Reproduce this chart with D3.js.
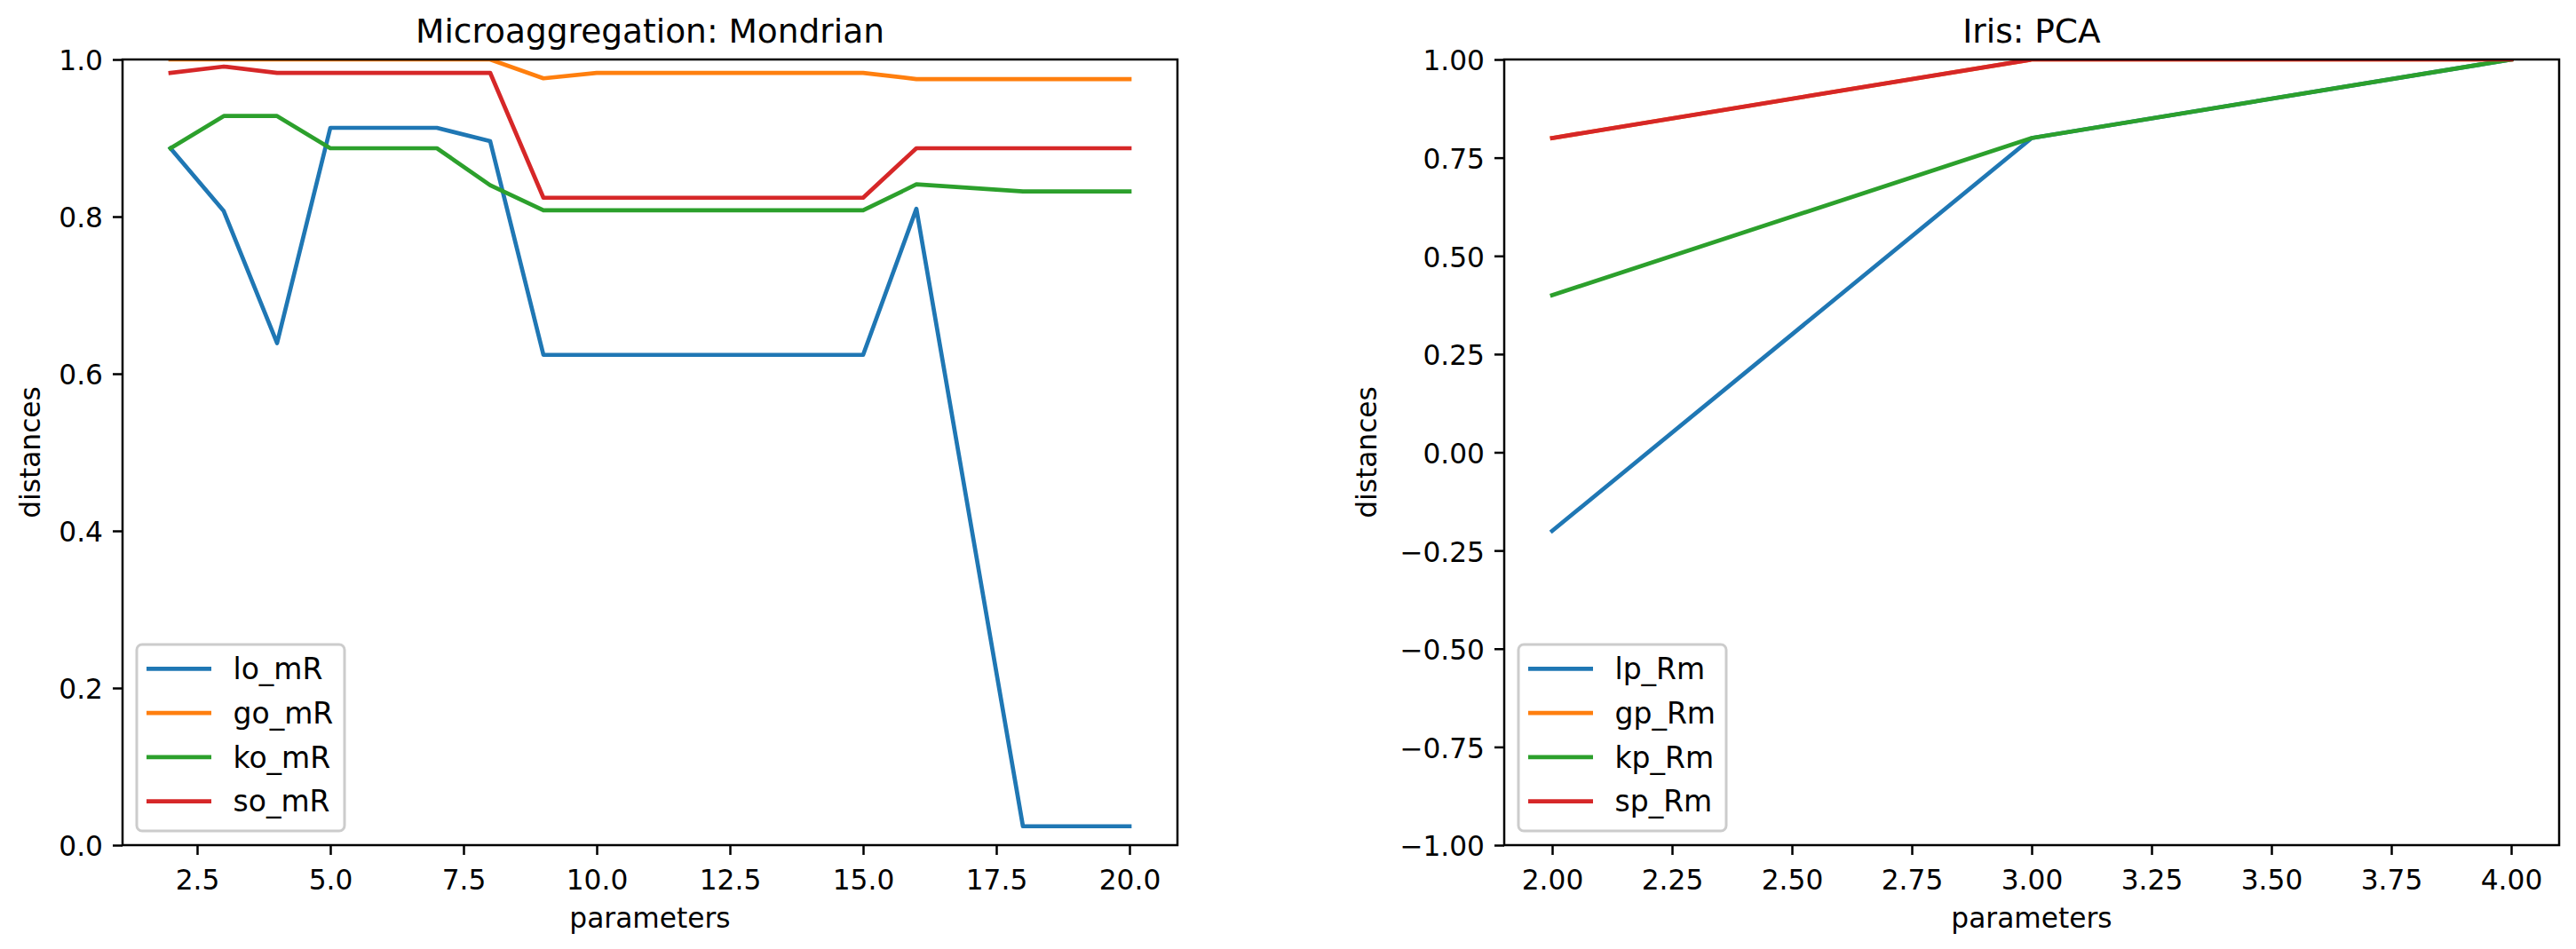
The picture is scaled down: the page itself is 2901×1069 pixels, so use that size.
<!DOCTYPE html>
<html>
<head>
<meta charset="utf-8">
<script src="https://cdn.jsdelivr.net/npm/d3@7"></script>
<style>
  body { margin: 0; background: #fff; }
  svg text { font-family: "DejaVu Sans", sans-serif; fill: #000; }
</style>
</head>
<body>
<div id="chart"></div>
<script>
// left panel data (Microaggregation: Mondrian)
const leftParams = [2, 3, 4, 5, 7, 8, 9, 10, 15, 16, 18, 20];
const lo_mR = [0.887, 0.807, 0.639, 0.913, 0.913, 0.896, 0.624, 0.624, 0.624, 0.810, 0.024, 0.024];
const go_mR = [1.0, 1.0, 1.0, 1.0, 1.0, 1.0, 0.976, 0.983, 0.983, 0.975, 0.975, 0.975];
const ko_mR = [0.887, 0.928, 0.928, 0.887, 0.887, 0.840, 0.808, 0.808, 0.808, 0.841, 0.832, 0.832];
const so_mR = [0.983, 0.991, 0.983, 0.983, 0.983, 0.983, 0.824, 0.824, 0.824, 0.887, 0.887, 0.887];
const leftNames = ["lo_mR", "go_mR", "ko_mR", "so_mR"];
const leftXTicks = [2.5, 5, 7.5, 10, 12.5, 15, 17.5, 20];
const leftYTicks = [0, 0.2, 0.4, 0.6, 0.8, 1.0];

// right panel data (Iris: PCA) - gp_Rm sits under sp_Rm
const rightParams = [2, 3, 4];
const lp_Rm = [-0.2, 0.8, 1.0];
const gp_Rm = [0.8, 1.0, 1.0];
const kp_Rm = [0.4, 0.8, 1.0];
const sp_Rm = [0.8, 1.0, 1.0];
const rightNames = ["lp_Rm", "gp_Rm", "kp_Rm", "sp_Rm"];
const rightXTicks = [2, 2.25, 2.5, 2.75, 3, 3.25, 3.5, 3.75, 4];
const rightYTicks = [-1, -0.75, -0.5, -0.25, 0, 0.25, 0.5, 0.75, 1];

const colors = ["#1f77b4", "#ff7f0e", "#2ca02c", "#d62728"];

const fullWidth = 2901;
const fullHeight = 1069;
const tickFont = 31.25;
const legendFont = 33;
const lineWidth = 4.7;

const svg = d3
  .select("#chart")
  .append("svg")
  .attr("width", fullWidth)
  .attr("height", fullHeight);

/**
 * pads a data extent by 5% on both sides like matplotlib does
 * @param {*} values
 */
function paddedExtent(values) {
  const ext = d3.extent(values);
  const pad = (ext[1] - ext[0]) * 0.05;
  return [ext[0] - pad, ext[1] + pad];
}

/**
 * draws one panel: lines, axes, spines, title, labels and legend
 */
function plotPanel(opts) {
  const left = opts.left, top = 67, width = 1188, height = 885;

  const xScale = d3.scaleLinear().domain(paddedExtent(opts.params)).range([0, width]);
  const yScale = d3.scaleLinear().domain(opts.yDomain).range([height, 0]);

  const g = svg.append("g").attr("transform", "translate(" + left + "," + top + ")");

  g.append("clipPath")
    .attr("id", opts.id + "-clip")
    .append("rect")
    .attr("width", width)
    .attr("height", height);

  const line = d3
    .line()
    .x((d) => xScale(d.x))
    .y((d) => yScale(d.y));

  // one line per series, drawn in series order
  opts.series.forEach((values, i) => {
    const points = opts.params.map((p, j) => ({ x: p, y: values[j] }));
    g.append("path")
      .datum(points)
      .attr("clip-path", "url(#" + opts.id + "-clip)")
      .attr("d", line)
      .attr("fill", "none")
      .attr("stroke", colors[i])
      .attr("stroke-width", lineWidth)
      .attr("stroke-linejoin", "round")
      .attr("stroke-linecap", "square");
  });

  // x axis
  const xAxis = g
    .append("g")
    .attr("transform", "translate(0," + height + ")")
    .call(
      d3.axisBottom(xScale)
        .tickValues(opts.xTicks)
        .tickFormat(d3.format(opts.xFormat))
        .tickSize(11)
        .tickPadding(11)
        .tickSizeOuter(0)
    );
  styleAxis(xAxis);
  xAxis.selectAll("text").attr("dy", "0.9em");

  // y axis
  const yAxis = g
    .append("g")
    .call(
      d3.axisLeft(yScale)
        .tickValues(opts.yTicks)
        .tickFormat(d3.format(opts.yFormat))
        .tickSize(11)
        .tickPadding(11)
        .tickSizeOuter(0)
    );
  styleAxis(yAxis);
  yAxis.selectAll("text").attr("dy", "0.38em");

  // spines on top of the lines
  g.append("rect")
    .attr("width", width)
    .attr("height", height)
    .attr("fill", "none")
    .attr("stroke", "#000")
    .attr("stroke-width", 2.5);

  // title
  g.append("text")
    .attr("x", width / 2)
    .attr("y", -19)
    .attr("text-anchor", "middle")
    .style("font-size", "37.5px")
    .text(opts.title);

  // axis labels
  g.append("text")
    .attr("x", width / 2)
    .attr("y", 1045 - top)
    .attr("text-anchor", "middle")
    .style("font-size", tickFont + "px")
    .text("parameters");

  g.append("text")
    .attr("transform", "translate(" + opts.yLabelX + "," + height / 2 + ") rotate(-90)")
    .attr("text-anchor", "middle")
    .style("font-size", tickFont + "px")
    .text("distances");

  drawLegend(g, opts.names, height);
}

/**
 * applies matplotlib like style to a d3 axis group
 * @param {*} axis
 */
function styleAxis(axis) {
  axis.select(".domain").remove();
  axis.attr("font-family", null).attr("font-size", null);
  axis.selectAll("line").attr("stroke", "#000").attr("stroke-width", 2.5);
  axis.selectAll("text").style("font-size", tickFont + "px");
}

/**
 * legend in the lower left corner of the axes
 * @param {*} g
 * @param {*} names
 * @param {*} height
 */
function drawLegend(g, names, height) {
  const boxX = 16, boxW = 234, boxH = 210;
  const boxY = height - 16 - boxH;
  const rowGap = 49.8;

  const legend = g.append("g").attr("transform", "translate(" + boxX + "," + boxY + ")");

  legend.append("rect")
    .attr("width", boxW)
    .attr("height", boxH)
    .attr("rx", 6)
    .attr("ry", 6)
    .attr("fill", "#fff")
    .attr("fill-opacity", 0.8)
    .attr("stroke", "#cccccc")
    .attr("stroke-width", 3);

  const items = legend
    .selectAll(".legend-item")
    .data(names)
    .enter()
    .append("g")
    .attr("class", "legend-item")
    .attr("transform", (d, i) => "translate(0," + (27.3 + i * rowGap) + ")");

  items.append("line")
    .attr("x1", 11)
    .attr("x2", 84)
    .attr("stroke", (d, i) => colors[i])
    .attr("stroke-width", lineWidth);

  items.append("text")
    .attr("x", 108.5)
    .attr("y", 11.7)
    .style("font-size", legendFont + "px")
    .text((d) => d);
}

plotPanel({
  id: "left",
  left: 138,
  params: leftParams,
  series: [lo_mR, go_mR, ko_mR, so_mR],
  names: leftNames,
  yDomain: [0, 1],
  xTicks: leftXTicks,
  yTicks: leftYTicks,
  xFormat: ".1f",
  yFormat: ".1f",
  title: "Microaggregation: Mondrian",
  yLabelX: 45 - 138
});

plotPanel({
  id: "right",
  left: 1694,
  params: rightParams,
  series: [lp_Rm, gp_Rm, kp_Rm, sp_Rm],
  names: rightNames,
  yDomain: [-1, 1],
  xTicks: rightXTicks,
  yTicks: rightYTicks,
  xFormat: ".2f",
  yFormat: ".2f",
  title: "Iris: PCA",
  yLabelX: 1550 - 1694
});
</script>
</body>
</html>
